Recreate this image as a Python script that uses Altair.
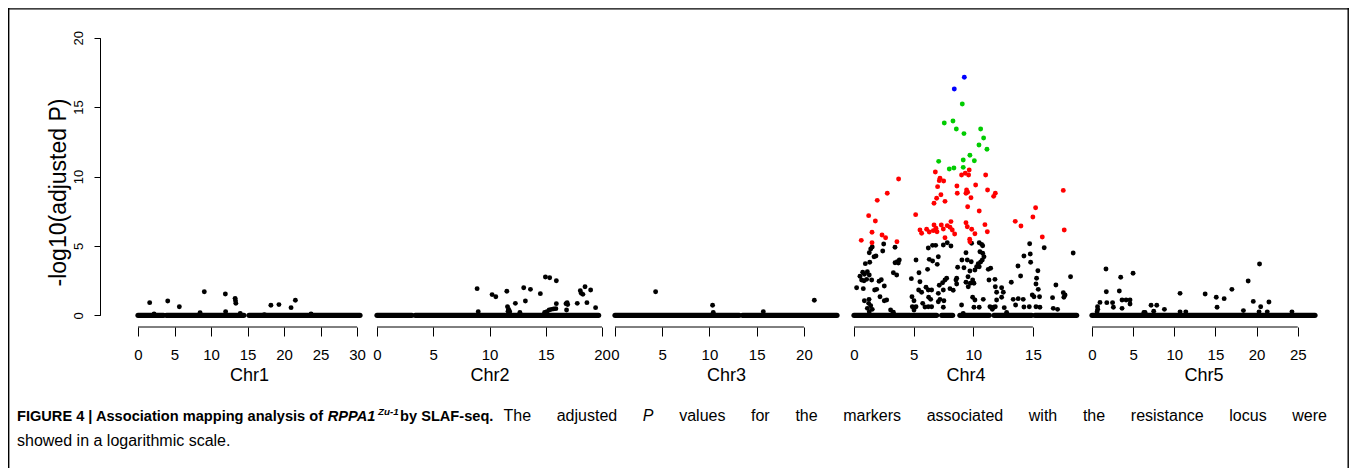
import altair as alt
import pandas as pd

# ---------------- data ----------------
CHR_NAMES = ["Chr1", "Chr2", "Chr3", "Chr4", "Chr5"]
CHR_LEN = [30.4, 20.0, 23.5, 18.7, 27.1]
CHR_TICKS = [
    [0, 5, 10, 15, 20, 25, 30],
    [0, 5, 10, 15, 20],
    [0, 5, 10, 15, 20],
    [0, 5, 10, 15],
    [0, 5, 10, 15, 20, 25],
]
Y_TICKS = [0, 5, 10, 15, 20]

# runs of densely packed markers sitting at -log10(P) = 0
BASE_RUNS = [
    [[0, 3.5], [3.9, 14.5], [15.2, 30.4]],
    [[0, 3.1], [3.4, 19.7]],
    [[0, 13.15], [13.5, 23.5]],
    [[0, 4.69], [4.83, 6.93], [7.35, 8.27], [8.88, 11.34], [11.74, 14.9], [15.17, 18.67]],
    [[0, 27.1]],
]

chr1_black = [[1.6, 0.91], [4.07, 1.03], [5.66, 0.62], [9.08, 1.70], [11.96, 1.53], [13.3, 1.22],
              [13.35, 1.05], [13.4, 0.86], [8.5, 0.19], [12.0, 0.26], [14.0, 0.14], [2.2, 0.10],
              [18.2, 0.72], [19.3, 0.77], [20.96, 0.55], [21.55, 1.08], [23.7, 0.10], [17.3, 0.05]]

chr2_black = [[8.9, 1.92], [9.0, 0.26], [10.23, 1.49], [10.56, 1.34], [11.54, 1.73], [11.6, 0.62],
              [11.7, 0.43], [11.8, 0.26], [11.65, 0.30], [12.3, 0.86], [12.7, 0.20], [13.04, 1.99],
              [13.19, 1.03], [13.64, 1.87], [14.52, 1.56], [14.97, 2.76], [15.35, 2.71], [15.94, 2.49],
              [14.9, 0.20], [15.1, 0.26], [15.3, 0.38], [15.5, 0.43], [15.7, 0.46], [15.9, 0.48],
              [15.94, 0.84], [16.8, 0.84], [16.9, 0.91], [16.95, 0.77], [16.85, 0.38], [17.8, 0.86],
              [18.07, 1.77], [18.16, 1.58], [18.3, 1.51], [18.49, 2.06], [18.99, 1.82], [18.66, 0.91],
              [19.43, 0.55]]

chr3_black = [[4.3, 1.70], [10.33, 0.72], [10.4, 0.20], [15.7, 0.26], [21.1, 1.08]]

chr4_black = [[1.40, 4.78], [1.53, 4.92], [1.28, 4.51], [1.84, 4.27], [1.68, 4.22], [2.41, 4.63],
              [2.49, 5.14], [0.95, 3.72], [1.32, 3.82], [0.73, 3.10], [0.87, 2.95], [1.12, 3.14],
              [1.28, 2.90], [0.64, 2.54], [0.84, 2.49], [1.06, 2.59], [1.48, 2.54], [0.50, 2.81],
              [0.22, 1.99], [0.78, 1.92], [1.73, 1.82], [1.90, 1.87], [2.10, 2.45], [2.29, 2.56],
              [2.54, 2.11], [2.18, 1.34], [2.54, 1.05], [2.74, 1.10], [1.26, 1.15], [0.87, 1.05],
              [1.23, 0.86], [1.40, 0.69], [1.12, 0.50], [1.53, 0.43], [1.28, 0.26], [3.07, 0.38],
              [3.30, 0.22], [3.44, 4.90], [3.44, 3.79], [3.63, 3.86], [3.80, 3.98], [3.72, 3.77],
              [3.30, 3.07], [3.58, 2.90], [4.81, 2.64], [5.20, 3.98], [5.45, 3.07], [5.53, 2.42],
              [4.86, 1.34], [5.42, 1.82], [5.67, 1.66], [5.03, 1.05], [4.89, 0.62], [5.20, 0.62],
              [5.76, 0.86], [5.03, 0.38], [6.23, 4.85], [6.59, 5.04], [6.85, 5.04], [6.31, 4.03],
              [6.59, 3.91], [7.07, 4.22], [6.98, 3.67], [6.17, 3.31], [6.04, 2.02], [6.23, 1.82],
              [6.51, 1.82], [6.26, 1.30], [6.43, 1.15], [5.95, 0.60], [6.23, 0.62], [6.51, 0.62],
              [7.15, 2.16], [7.43, 2.35], [7.63, 2.54], [7.77, 2.67], [7.07, 1.58], [7.49, 1.82],
              [7.21, 1.15], [7.07, 0.98], [7.54, 1.05], [7.49, 0.58], [8.05, 1.92], [8.32, 1.80],
              [8.61, 2.25], [8.61, 2.67], [8.69, 3.46], [8.55, 2.54], [7.82, 5.23], [8.13, 4.99],
              [7.49, 5.06], [9.05, 3.98], [9.39, 4.51], [9.50, 3.98], [9.83, 3.86], [9.22, 3.43],
              [9.72, 3.19], [9.56, 2.78], [9.39, 2.38], [9.75, 2.31], [9.58, 2.06], [9.95, 2.54],
              [10.06, 2.31], [9.86, 5.19], [10.5, 5.23], [10.70, 5.11], [10.79, 5.01], [10.56, 4.58],
              [10.79, 4.47], [10.90, 4.22], [10.76, 3.98], [10.62, 3.84], [10.42, 3.72], [10.28, 3.50],
              [10.14, 3.26], [10.5, 3.50], [11.26, 3.31], [11.46, 3.39], [11.32, 2.54], [11.82, 2.59],
              [11.85, 2.06], [11.96, 1.66], [12.38, 1.99], [12.52, 1.66], [11.96, 1.10], [12.38, 1.30],
              [9.95, 1.30], [10.14, 1.10], [10.06, 0.58], [10.84, 1.15], [10.50, 0.58], [9.02, 0.74],
              [9.16, 0.14], [11.4, 0.62], [11.7, 0.58], [11.85, 0.62], [11.6, 0.43], [12.6, 0.55],
              [12.8, 0.20], [13.19, 2.38], [13.35, 1.15], [13.77, 1.20], [14.19, 1.15], [13.55, 0.74],
              [14.25, 0.60], [13.75, 3.55], [13.97, 2.83], [14.25, 4.27], [14.73, 5.16], [14.78, 4.42],
              [14.81, 3.82], [15.42, 3.21], [15.31, 2.67], [15.26, 2.25], [15.45, 1.87], [15.56, 1.34],
              [14.95, 1.46], [15.09, 1.34], [14.70, 0.62], [15.26, 0.62], [15.59, 0.58], [15.95, 4.87],
              [16.93, 2.18], [16.65, 1.27], [16.71, 0.50], [17.07, 0.43], [17.55, 1.63], [17.60, 1.30],
              [17.70, 1.46], [18.16, 2.78], [18.38, 4.49]]

chr4_red = [[6.82, 10.32], [7.21, 9.87], [7.15, 9.70], [7.52, 9.68], [7.01, 9.27], [7.29, 8.69],
            [6.93, 8.43], [6.71, 8.07], [7.63, 8.21], [9.02, 10.11], [9.33, 10.23], [9.66, 10.47],
            [9.61, 10.11], [8.63, 9.32], [8.66, 8.79], [9.44, 9.03], [9.53, 8.86], [9.39, 8.79],
            [9.81, 8.47], [9.53, 7.82], [10.2, 9.39], [11.04, 10.11], [11.2, 9.03], [11.85, 8.79],
            [11.71, 8.57], [10.5, 7.51], [3.74, 9.82], [2.79, 8.79], [1.95, 8.28], [1.23, 7.18],
            [1.79, 6.79], [1.51, 5.98], [2.35, 5.79], [2.65, 5.59], [0.61, 5.40], [1.51, 5.23],
            [3.60, 5.30], [5.17, 7.25], [5.53, 6.15], [5.67, 5.91], [6.09, 6.20], [6.31, 6.00],
            [6.71, 6.51], [6.87, 6.27], [6.65, 6.10], [6.96, 6.02], [7.32, 6.51], [7.49, 6.22],
            [7.82, 6.46], [8.13, 6.75], [8.05, 6.34], [8.24, 6.15], [8.44, 5.86], [7.63, 5.59],
            [9.39, 6.67], [9.50, 6.38], [9.87, 6.20], [10.14, 5.88], [9.70, 5.48], [9.72, 5.30],
            [10.98, 6.53], [11.18, 6.02], [13.52, 6.77], [14.0, 6.43], [15.0, 7.08], [15.23, 7.75],
            [15.79, 5.64], [17.55, 9.00], [17.63, 6.15]]

chr4_green = [[9.08, 15.22], [7.57, 13.85], [8.30, 14.0], [8.58, 13.42], [9.22, 13.09], [10.62, 13.42],
              [10.87, 12.77], [10.48, 12.27], [11.15, 11.96], [9.72, 11.53], [10.09, 11.14],
              [9.16, 11.19], [7.10, 11.09], [7.99, 10.54], [8.38, 10.61], [9.16, 10.66]]

chr4_blue = [[9.25, 17.15], [8.41, 16.30]]

chr5_black = [[1.70, 3.34], [1.74, 1.70], [1.8, 0.91], [0.97, 0.93], [0.67, 0.62], [0.70, 0.43],
              [0.62, 0.26], [2.5, 0.91], [2.6, 0.58], [3.49, 2.74], [3.32, 1.75], [3.65, 1.10],
              [4.14, 1.10], [3.65, 0.50], [4.62, 1.10], [4.62, 0.81], [4.99, 3.03], [6.3, 0.20],
              [6.45, 0.20], [7.18, 0.72], [7.87, 0.72], [7.5, 0.30], [8.8, 0.43], [10.7, 1.58],
              [10.7, 0.25], [11.4, 0.25], [13.75, 1.53], [15.1, 1.30], [15.2, 0.58], [16.06, 1.20],
              [17.0, 1.87], [18.4, 0.34], [18.98, 2.47], [19.6, 1.00], [20.36, 3.70], [20.5, 0.62],
              [20.3, 0.25], [21.5, 0.96], [21.3, 0.25], [24.3, 0.25]]

POINT_GROUPS = [
    [(chr1_black, "#000000")],
    [(chr2_black, "#000000")],
    [(chr3_black, "#000000")],
    [(chr4_black, "#000000"), (chr4_red, "#ff0000"), (chr4_green, "#00cc00"), (chr4_blue, "#0000ff")],
    [(chr5_black, "#000000")],
]

Y_TITLE = "-log10(adjusted P)"

# caption pieces: text, italic?, superscript?
CAP_BOLD = [
    ["FIGURE 4 | Association mapping analysis of ", False, False],
    ["RPPA1", True, False],
    ["Zu-1", True, True],
    [" by SLAF-seq.", False, False],
]
CAP_LINE1_WORDS = ["The", "adjusted", "P", "values", "for", "the", "markers", "associated", "with",
                   "the", "resistance", "locus", "were"]
CAP_LINE2 = "showed in a logarithmic scale."

# ---------------- layout ----------------
W, H = 1341, 460
PANEL_X0 = [130, 369, 607, 846, 1084]
PANEL_W = [222, 225, 222, 223, 223]
Y_RANGE = [307.3, 29.7]
AXIS_Y = 319
FONT = "Liberation Sans"
DOT = 24

yenc = alt.Y(
    "v:Q",
    scale=alt.Scale(domain=[0, 20], range=Y_RANGE, nice=False, zero=False),
    axis=alt.Axis(values=Y_TICKS, offset=-92, tickSize=6, labelAngle=270, labelAlign="center",
                  labelBaseline="alphabetic", labelPadding=12, labelFontSize=13, labelFont=FONT,
                  labelColor="#000000", domainColor="#000000", tickColor="#000000", title=None,
                  grid=False),
)


def panel(i):
    xenc = alt.X(
        "p:Q",
        scale=alt.Scale(domain=[0, CHR_LEN[i]], range=[PANEL_X0[i], PANEL_X0[i] + PANEL_W[i]],
                        nice=False, zero=False),
        axis=alt.Axis(values=CHR_TICKS[i], orient="bottom", offset=AXIS_Y - H, domain=False,
                      tickSize=9, tickColor="#000000", labelPadding=11, labelFontSize=15,
                      labelFont=FONT, labelColor="#000000", labelFlush=False, labelOverlap=False,
                      title=CHR_NAMES[i], titleFont=FONT, titleFontSize=18, titleFontWeight="normal",
                      titleColor="#000000", titleY=53, titleBaseline="alphabetic", grid=False,
                      format="d"),
    )
    runs = pd.DataFrame({"p": [r[0] for r in BASE_RUNS[i]], "p2": [r[1] for r in BASE_RUNS[i]],
                         "v": [0.0] * len(BASE_RUNS[i])})
    base = alt.Chart(runs).mark_rule(strokeWidth=5.2, strokeCap="round", color="#000000").encode(
        x=xenc, x2="p2:Q", y=yenc)
    layers = [base]
    for pts, col in POINT_GROUPS[i]:
        df = pd.DataFrame({"p": [a[0] for a in pts], "v": [a[1] for a in pts]})
        layers.append(alt.Chart(df).mark_circle(size=DOT, opacity=1, color=col).encode(x=xenc, y=yenc))
    ax = pd.DataFrame({"p": [CHR_TICKS[i][0]], "p2": [CHR_TICKS[i][-1]]})
    layers.append(alt.Chart(ax).mark_rule(color="#000000", strokeWidth=1).encode(
        x=xenc, x2="p2:Q", y=alt.value(AXIS_Y)))
    return alt.layer(*layers)


one = pd.DataFrame({"a": [0]})

ytitle = alt.Chart(pd.DataFrame({"t": [Y_TITLE]})).mark_text(
    angle=270, align="center", baseline="middle", font=FONT, fontSize=23, color="#000000").encode(
    text="t:N", x=alt.value(50.5), y=alt.value(184.5))

frame = [
    alt.Chart(one).mark_rule(color="#000000", strokeWidth=1.4).encode(
        x=alt.value(0.7), y=alt.value(0), y2=alt.value(H)),
    alt.Chart(one).mark_rule(color="#000000", strokeWidth=1.4).encode(
        x=alt.value(0), x2=alt.value(W), y=alt.value(0.9)),
    alt.Chart(one).mark_rule(color="#000000", strokeWidth=1.4).encode(
        x=alt.value(W - 0.8), y=alt.value(0), y2=alt.value(H)),
]

# Liberation Sans (Arial metrics) advance widths, 1/1000 em
ADV = {"a": 556, "b": 556, "c": 500, "d": 556, "e": 556, "f": 278, "g": 556, "h": 556, "i": 222,
       "j": 222, "k": 500, "l": 222, "m": 833, "n": 556, "o": 556, "p": 556, "q": 556, "r": 333,
       "s": 500, "t": 278, "u": 556, "v": 500, "w": 722, "x": 500, "y": 500, "z": 500,
       "T": 611, "P": 667, " ": 278}
ADV_B = {"a": 556, "b": 611, "c": 556, "d": 611, "e": 556, "f": 333, "g": 611, "h": 611, "i": 278,
         "l": 278, "m": 889, "n": 611, "o": 611, "p": 611, "q": 611, "s": 556, "t": 333, "u": 611,
         "y": 556, "A": 722, "E": 667, "F": 611, "G": 778, "I": 278, "L": 611, "P": 667, "R": 722,
         "S": 667, "U": 722, "Z": 611, " ": 278, "|": 280, "-": 333, ".": 278}
CAP_SIZE = 16
BOLD_SIZE = 14.6
SUP_SIZE = 9.8
LINE1_Y, LINE2_Y = 413, 438
CAP_X0 = 9
WORDS_X1 = 1319


def text_w(s, size, table):
    return sum(table.get(c, 556) for c in s) * size / 1000.0


caption = []
xpos = CAP_X0
for t, it, sup in CAP_BOLD:
    sz = SUP_SIZE if sup else BOLD_SIZE
    caption.append(alt.Chart(pd.DataFrame({"t": [t]})).mark_text(
        align="left", baseline="alphabetic", font=FONT, fontSize=sz, fontWeight="bold",
        fontStyle="italic" if it else "normal", color="#000000").encode(
        text="t:N", x=alt.value(round(xpos, 1)), y=alt.value(LINE1_Y - (6 if sup else 0))))
    xpos += text_w(t, sz, ADV_B) + (1.5 if it else 0)

# justified words of the first caption line (regular weight), starting after the bold lead-in
words_x0 = xpos + 6
ww = [text_w(w, CAP_SIZE, ADV) for w in CAP_LINE1_WORDS]
gap = (WORDS_X1 - words_x0 - sum(ww)) / (len(ww) - 1)
xpos = words_x0
for w, wd in zip(CAP_LINE1_WORDS, ww):
    caption.append(alt.Chart(pd.DataFrame({"t": [w]})).mark_text(
        align="left", baseline="alphabetic", font=FONT, fontSize=CAP_SIZE,
        fontStyle="italic" if w == "P" else "normal", color="#000000").encode(
        text="t:N", x=alt.value(round(xpos, 1)), y=alt.value(LINE1_Y)))
    xpos += wd + gap

caption.append(alt.Chart(pd.DataFrame({"t": [CAP_LINE2]})).mark_text(
    align="left", baseline="alphabetic", font=FONT, fontSize=CAP_SIZE, color="#000000").encode(
    text="t:N", x=alt.value(CAP_X0), y=alt.value(LINE2_Y)))

chart = alt.layer(
    *[panel(i) for i in range(5)], ytitle, *frame, *caption
).resolve_scale(x="independent").properties(
    width=W, height=H, autosize=alt.AutoSizeParams(type="none"), padding=0
).configure_view(stroke=None).configure_axis(grid=False)

chart.save("out.html", embed_options={"renderer": "svg", "actions": False})
